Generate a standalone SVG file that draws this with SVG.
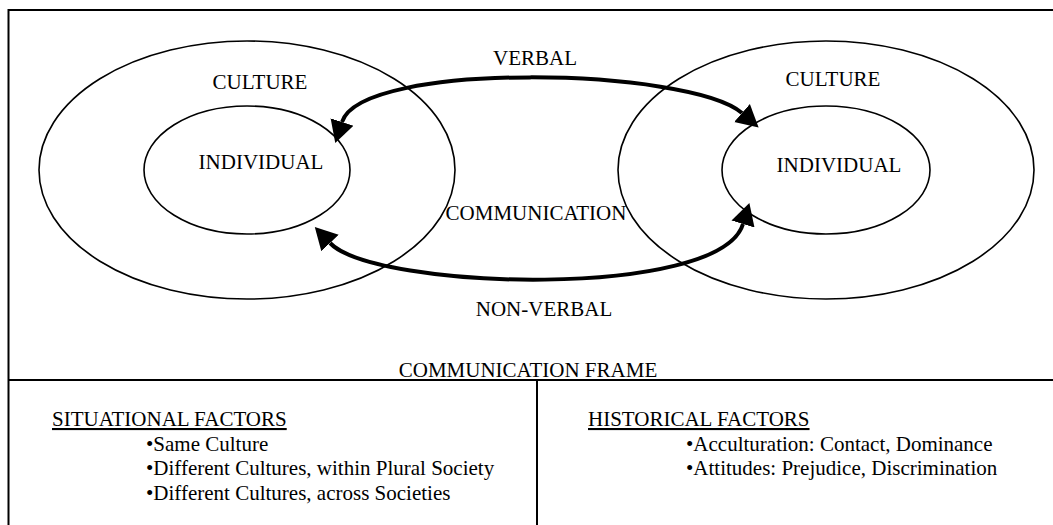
<svg xmlns="http://www.w3.org/2000/svg" width="1053" height="525" viewBox="0 0 1053 525">
  <style>
    text { font-family: "Liberation Serif", "Times New Roman", Times, "DejaVu Serif", serif; font-size: 21px; fill: #000; }
    .mid { text-anchor: middle; }
    .ring { fill: none; stroke: #000; stroke-width: 1.6; }
    .frame { fill: none; stroke: #000; stroke-width: 2; }
    .flow { fill: none; stroke: #000; stroke-width: 4; }
    .head { text-decoration: underline; }
  </style>
  <defs>
    <marker id="arrow" markerUnits="userSpaceOnUse" markerWidth="24" markerHeight="26" refX="0" refY="12" orient="auto-start-reverse" viewBox="0 0 24 24">
      <path d="M0,0 L22,12 L0,24 z" fill="#000"/>
    </marker>
  </defs>
  <rect width="1053" height="525" fill="#fff"/>

  <!-- outer frame and lower panel dividers -->
  <g id="frame">
    <rect class="frame" x="8.5" y="10" width="1060" height="530"/>
    <line class="frame" x1="8.5" y1="380" x2="1053" y2="380"/>
    <line class="frame" x1="537" y1="380" x2="537" y2="525"/>
    <text class="mid" x="528" y="377">COMMUNICATION FRAME</text>
  </g>

  <g id="culture-left">
    <ellipse class="ring" cx="247" cy="170" rx="208" ry="129"/>
    <text class="mid" x="260" y="89">CULTURE</text>
  </g>
  <g id="individual-left">
    <ellipse class="ring" cx="247" cy="170" rx="103" ry="64"/>
    <text class="mid" x="261" y="169">INDIVIDUAL</text>
  </g>
  <g id="culture-right">
    <ellipse class="ring" cx="826" cy="170" rx="208" ry="129"/>
    <text class="mid" x="833" y="86">CULTURE</text>
  </g>
  <g id="individual-right">
    <ellipse class="ring" cx="826" cy="170" rx="104" ry="64"/>
    <text class="mid" x="839" y="172">INDIVIDUAL</text>
  </g>

  <!-- verbal and non-verbal exchange -->
  <g id="connectors">
    <path class="flow" d="M342,122 C362,60 690,68 742,113" marker-start="url(#arrow)" marker-end="url(#arrow)"/>
    <path class="flow" d="M330,243 C375,290 720,300 743,224" marker-start="url(#arrow)" marker-end="url(#arrow)"/>
    <text class="mid" x="535" y="65">VERBAL</text>
    <text class="mid" x="536" y="220">COMMUNICATION</text>
    <text class="mid" x="544" y="316">NON-VERBAL</text>
  </g>

  <g id="situational-factors">
    <text class="head" x="52" y="426">SITUATIONAL FACTORS</text>
    <text x="146" y="451">•Same Culture</text>
    <text x="146" y="475">•Different Cultures, within Plural Society</text>
    <text x="146" y="500">•Different Cultures, across Societies</text>
  </g>
  <g id="historical-factors">
    <text class="head" x="588" y="426">HISTORICAL FACTORS</text>
    <text x="686" y="451">•Acculturation: Contact, Dominance</text>
    <text x="686" y="475">•Attitudes: Prejudice, Discrimination</text>
  </g>
</svg>
